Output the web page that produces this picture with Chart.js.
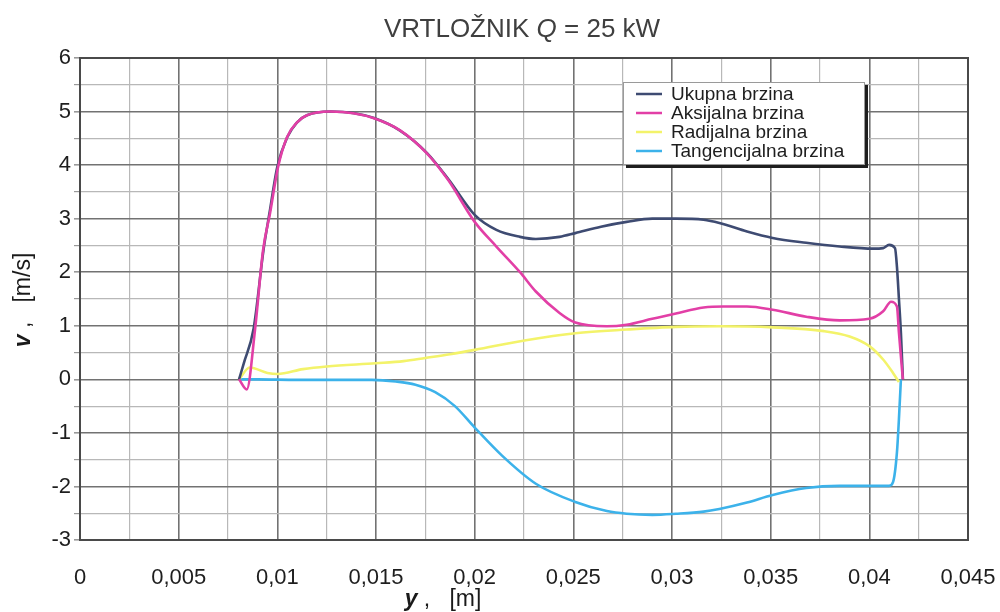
<!DOCTYPE html>
<html><head><meta charset="utf-8">
<script src="https://cdn.jsdelivr.net/npm/chart.js@4.4.1/dist/chart.umd.min.js"></script>
<style>html,body{margin:0;padding:0;background:#fff;}#wrap{position:relative;width:1000px;height:612px;}</style>
</head><body><div id="wrap"><canvas id="c" width="1000" height="612"></canvas></div>
<script>
const seriesLabels = ['Ukupna brzina', 'Aksijalna brzina', 'Radijalna brzina', 'Tangencijalna brzina'];
const seriesColors = ['#3e4b72', '#e23fa6', '#f3f36a', '#3cb2ea'];

const xUkupna = [0.00806, 0.0083, 0.0088, 0.0093, 0.0096, 0.0100, 0.0105, 0.0110, 0.0115, 0.0127, 0.0139, 0.0149, 0.0162, 0.0176, 0.0187, 0.0200, 0.0211, 0.0223, 0.0231, 0.0243, 0.0251, 0.0264, 0.0277, 0.0290, 0.0302, 0.0316, 0.0324, 0.0338, 0.0351, 0.0368, 0.0385, 0.0402, 0.0407, 0.0410, 0.0413, 0.0414, 0.0415, 0.0416, 0.0417];
const yUkupna = [0, 0.3, 0.95, 2.42, 3.1, 3.97, 4.52, 4.8, 4.93, 5.0, 4.97, 4.88, 4.65, 4.22, 3.72, 3.07, 2.79, 2.66, 2.62, 2.66, 2.73, 2.85, 2.94, 3.0, 3.0, 2.98, 2.92, 2.76, 2.64, 2.55, 2.48, 2.44, 2.45, 2.51, 2.45, 2.1, 1.5, 0.87, 0];

const xAksijalna = [0.00806, 0.00845, 0.00887, 0.00928, 0.00963, 0.01004, 0.01049, 0.0110, 0.0115, 0.01267, 0.01385, 0.01486, 0.01622, 0.01758, 0.01866, 0.0200, 0.0211, 0.0223, 0.0231, 0.0243, 0.0251, 0.0267, 0.0277, 0.0290, 0.0302, 0.0316, 0.0326, 0.0338, 0.0351, 0.0368, 0.0385, 0.0400, 0.0407, 0.0411, 0.0414, 0.0415, 0.0417];
const yAksijalna = [0, -0.19, 0.93, 2.42, 3.1, 3.97, 4.52, 4.8, 4.93, 5.0, 4.97, 4.88, 4.65, 4.22, 3.72, 2.94, 2.48, 2.0, 1.64, 1.24, 1.06, 0.99, 1.02, 1.13, 1.23, 1.34, 1.36, 1.36, 1.3, 1.17, 1.1, 1.13, 1.27, 1.45, 1.36, 0.87, 0];

const xRadijalna = [0.00806, 0.0086, 0.0095, 0.0100, 0.0113, 0.0125, 0.0150, 0.0164, 0.0175, 0.01875, 0.0200, 0.0226, 0.0251, 0.0277, 0.0302, 0.0324, 0.0351, 0.0377, 0.0390, 0.0400, 0.0407, 0.0412, 0.0415];
const yRadijalna = [0, 0.22, 0.12, 0.1, 0.19, 0.24, 0.3, 0.34, 0.4, 0.47, 0.55, 0.73, 0.86, 0.93, 0.98, 0.99, 0.97, 0.9, 0.8, 0.62, 0.37, 0.12, -0.05];

const xTangencijalna = [0.00806, 0.0090, 0.0110, 0.0130, 0.0148, 0.0160, 0.0170, 0.0180, 0.0190, 0.0200, 0.0214, 0.0231, 0.0251, 0.0267, 0.0277, 0.0290, 0.0302, 0.0316, 0.0324, 0.0338, 0.0351, 0.0368, 0.0385, 0.0402, 0.0410, 0.0412, 0.0414, 0.0415, 0.0416];
const yTangencijalna = [0, 0, -0.01, -0.01, -0.01, -0.04, -0.1, -0.24, -0.5, -0.9, -1.43, -1.95, -2.29, -2.46, -2.51, -2.53, -2.51, -2.47, -2.42, -2.3, -2.16, -2.03, -1.99, -1.99, -1.99, -1.92, -1.36, -0.74, 0];

const xTickMajorStep = 0.005;
const titleRuns = [['VRTLOŽNIK ', ''], ['Q', 'italic '], [' = 25 kW', '']];
const xTitleRuns = [['y', 'italic bold '], [' ,   [m]', '']];
const yTitleRuns = [['v', 'italic bold '], [' ,   [m/s]', '']];

const FONT = '"Liberation Sans", Arial, sans-serif';
function pts(xs, ys) { return xs.map((x, i) => ({ x: x, y: ys[i] })); }
const xsAll = [xUkupna, xAksijalna, xRadijalna, xTangencijalna];
const ysAll = [yUkupna, yAksijalna, yRadijalna, yTangencijalna];
const drawOrder = [1, 0, 2, 3];

const datasets = seriesLabels.map((lab, i) => ({
  label: lab,
  data: pts(xsAll[i], ysAll[i]),
  borderColor: seriesColors[i],
  backgroundColor: seriesColors[i],
  borderWidth: 2.6,
  pointRadius: 0,
  fill: false,
  cubicInterpolationMode: 'monotone',
  order: drawOrder[i]
}));

function isMult(v, step) { const r = v / step; return Math.abs(r - Math.round(r)) < 1e-6; }
function runsWidth(ctx, runs, size) {
  let w = 0;
  runs.forEach(r => { ctx.font = r[1] + size + 'px ' + FONT; w += ctx.measureText(r[0]).width; });
  return w;
}
function drawRuns(ctx, runs, cx, cy, size) {
  const w = runsWidth(ctx, runs, size);
  let x = cx - w / 2;
  ctx.textAlign = 'left';
  runs.forEach(r => { ctx.font = r[1] + size + 'px ' + FONT; ctx.fillText(r[0], x, cy); x += ctx.measureText(r[0]).width; });
}

const decor = {
  id: 'decor',
  afterDraw(chart) {
    const ctx = chart.ctx, ca = chart.chartArea;
    ctx.save();
    ctx.strokeStyle = '#4a4a4a'; ctx.lineWidth = 2;
    ctx.strokeRect(ca.left, ca.top, ca.right - ca.left, ca.bottom - ca.top);
    ctx.fillStyle = '#3f3f3f'; ctx.textBaseline = 'alphabetic';
    drawRuns(ctx, titleRuns, 522, 37, 26);
    ctx.fillStyle = '#1a1a1a';
    drawRuns(ctx, xTitleRuns, 443, 606, 23);
    ctx.save();
    ctx.translate(30, 300); ctx.rotate(-Math.PI / 2);
    drawRuns(ctx, yTitleRuns, 0, 0, 23);
    ctx.restore();
    // legend
    const bx = 623, by = 82, bw = 242, bh = 83;
    ctx.fillStyle = '#1e1e1e'; ctx.fillRect(bx + 3, by + 3, bw, bh);
    ctx.fillStyle = '#ffffff'; ctx.fillRect(bx, by, bw, bh);
    ctx.strokeStyle = '#9a9a9a'; ctx.lineWidth = 1; ctx.strokeRect(bx + 0.5, by + 0.5, bw - 1, bh - 1);
    chart.data.datasets.forEach((ds, i) => {
      const yy = by + 12 + i * 19;
      ctx.strokeStyle = ds.borderColor; ctx.lineWidth = 2.5;
      ctx.beginPath(); ctx.moveTo(bx + 13, yy); ctx.lineTo(bx + 39, yy); ctx.stroke();
      ctx.fillStyle = '#1e1e1e'; ctx.font = '19px ' + FONT; ctx.textBaseline = 'middle'; ctx.textAlign = 'left';
      ctx.fillText(ds.label, bx + 48, yy + 1);
    });
    ctx.restore();
  }
};

new Chart(document.getElementById('c'), {
  type: 'line',
  data: { datasets: datasets },
  options: {
    responsive: false,
    animation: false,
    devicePixelRatio: 1,
    layout: { padding: { top: 58, right: 32, bottom: 0, left: 0 } },
    plugins: { legend: { display: false }, title: { display: false }, tooltip: { enabled: false } },
    scales: {
      x: {
        type: 'linear', min: 0, max: 0.045,
        afterFit(s) { s.height = 72; },
        border: { display: false },
        grid: {
          drawTicks: true, tickLength: 24, tickColor: 'rgba(0,0,0,0)',
          color: c => isMult(c.tick.value, xTickMajorStep) ? '#727272' : '#b8b8b8',
          lineWidth: c => isMult(c.tick.value, xTickMajorStep) ? 1.6 : 1.2
        },
        ticks: {
          stepSize: 0.0025, autoSkip: false, maxRotation: 0, padding: 1,
          color: '#1e1e1e', font: { family: FONT, size: 22 },
          callback: v => isMult(v, xTickMajorStep) ? String(parseFloat(v.toFixed(4))).replace('.', ',') : ''
        }
      },
      y: {
        type: 'linear', min: -3, max: 6,
        afterFit(s) { s.width = 80; },
        border: { display: false },
        grid: {
          drawTicks: true, tickLength: 6, tickColor: '#999',
          color: c => isMult(c.tick.value, 1) ? '#727272' : '#b8b8b8',
          lineWidth: c => isMult(c.tick.value, 1) ? 1.6 : 1.2
        },
        ticks: {
          stepSize: 0.5, autoSkip: false, padding: 3,
          color: '#1e1e1e', font: { family: FONT, size: 22 },
          callback: v => isMult(v, 1) ? String(Math.round(v)) : ''
        }
      }
    }
  },
  plugins: [decor]
});
</script>
</body></html>
